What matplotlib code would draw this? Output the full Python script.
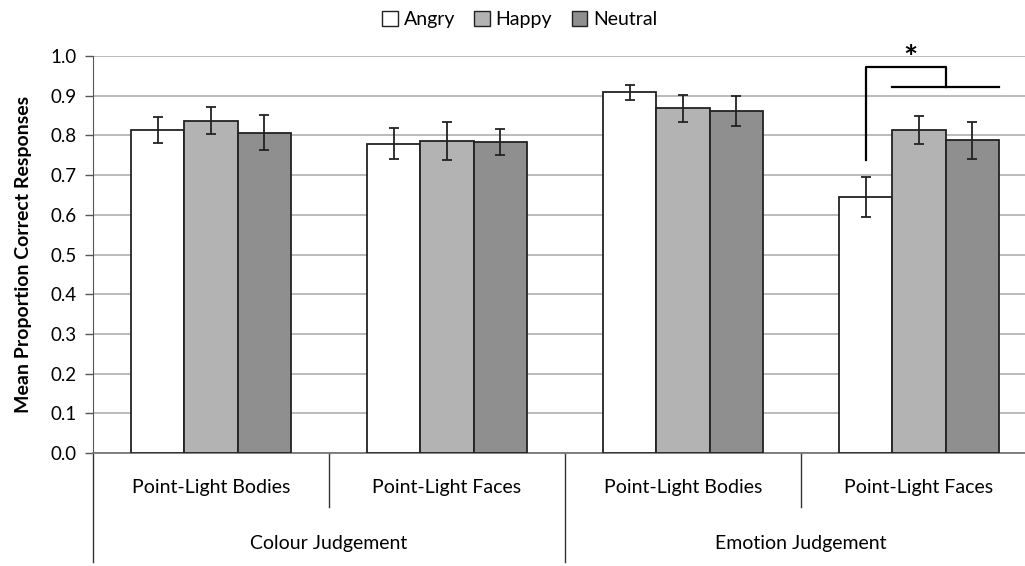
import matplotlib
matplotlib.use("Agg")
import matplotlib.pyplot as plt
import matplotlib.transforms as mtransforms
from matplotlib.patches import Patch
import numpy as np

plt.rcParams['font.family'] = ['Lato', 'DejaVu Sans']

# data
conditions = ["Point-Light Bodies", "Point-Light Faces", "Point-Light Bodies", "Point-Light Faces"]
tasks = ["Colour Judgement", "Emotion Judgement"]
emotions = ["Angry", "Happy", "Neutral"]
angry = [0.814, 0.779, 0.909, 0.644]
happy = [0.837, 0.786, 0.868, 0.814]
neutral = [0.807, 0.783, 0.861, 0.788]
angry_err = [0.033, 0.039, 0.019, 0.050]
happy_err = [0.034, 0.049, 0.035, 0.035]
neutral_err = [0.045, 0.032, 0.037, 0.047]

colors = ["white", "#b3b3b3", "#8f8f8f"]
edge = "#222222"

fig = plt.figure(figsize=(10.25, 5.66), dpi=100)
ax = fig.add_axes([93 / 1025, 113 / 566, (1025 - 93) / 1025, 397 / 566])

x = np.arange(len(conditions))
width = 0.225
series = [angry, happy, neutral]
errs = [angry_err, happy_err, neutral_err]
for i, (vals, err, col) in enumerate(zip(series, errs, colors)):
    pos = x + (i - 1) * width
    ax.bar(pos, vals, width, color=col, edgecolor=edge, linewidth=1.3, zorder=3)
    ax.errorbar(pos, vals, yerr=err, fmt="none", ecolor=edge, elinewidth=1.3,
                capsize=3.5, capthick=1.3, zorder=4)

ax.set_xlim(-0.5, 3.449)
ax.set_ylim(0, 1.0)
ax.set_yticks(np.arange(0, 1.01, 0.1))
ax.set_yticklabels([f"{v:.1f}" for v in np.arange(0, 1.01, 0.1)], fontsize=13.5)
ax.yaxis.grid(True, color="#b5b5b5", linewidth=1.3, zorder=0)
ax.set_axisbelow(True)
ax.set_xticks([])
ax.tick_params(axis="y", direction="out", length=6, width=1, color="#555555", pad=6)
for s in ["top", "right"]:
    ax.spines[s].set_visible(False)
ax.spines["left"].set_color("#555555")
ax.spines["bottom"].set_color("#777777")
ax.spines["bottom"].set_linewidth(1.3)

ax.set_ylabel("Mean Proportion Correct Responses", fontsize=14, fontweight="bold", labelpad=13)

# two-level category axis
trans = mtransforms.blended_transform_factory(ax.transData, ax.transAxes)
for xc, lab in zip(x, conditions):
    ax.text(xc, -0.088, lab, transform=trans, ha="center", va="center", fontsize=14)
for k, lab in enumerate(tasks):
    ax.text(2 * k + 0.5, -0.227, lab, transform=trans, ha="center", va="center", fontsize=14)
for xd in [0.5, 2.5]:
    ax.plot([xd, xd], [0, -0.135], transform=trans, color="#333333", lw=1, clip_on=False)
for xd in [-0.5, 1.5]:
    ax.plot([xd, xd], [0, -0.274], transform=trans, color="#333333", lw=1, clip_on=False)

# significance bracket
xa = x[3] - width
xm = x[3] + width / 2
ax.plot([xa, xa, xm, xm], [0.738, 0.973, 0.973, 0.923], color="black", lw=1.6,
        clip_on=False, zorder=5)
ax.plot([x[3] - width / 2, x[3] + 1.5 * width], [0.923, 0.923], color="black", lw=1.6,
        clip_on=False, zorder=5)
ax.text((xa + xm) / 2 + 0.02, 0.99, "*", ha="center", va="center", fontsize=24,
        fontweight="bold", clip_on=False)

handles = [Patch(facecolor=c, edgecolor=edge, linewidth=1) for c in colors]
fig.legend(handles, emotions, loc="center", bbox_to_anchor=(0.507, 0.965), ncol=3,
           frameon=False, fontsize=14, handlelength=0.8, handleheight=0.8,
           handletextpad=0.3, columnspacing=1.0)

fig.savefig("out.png", dpi=100)
